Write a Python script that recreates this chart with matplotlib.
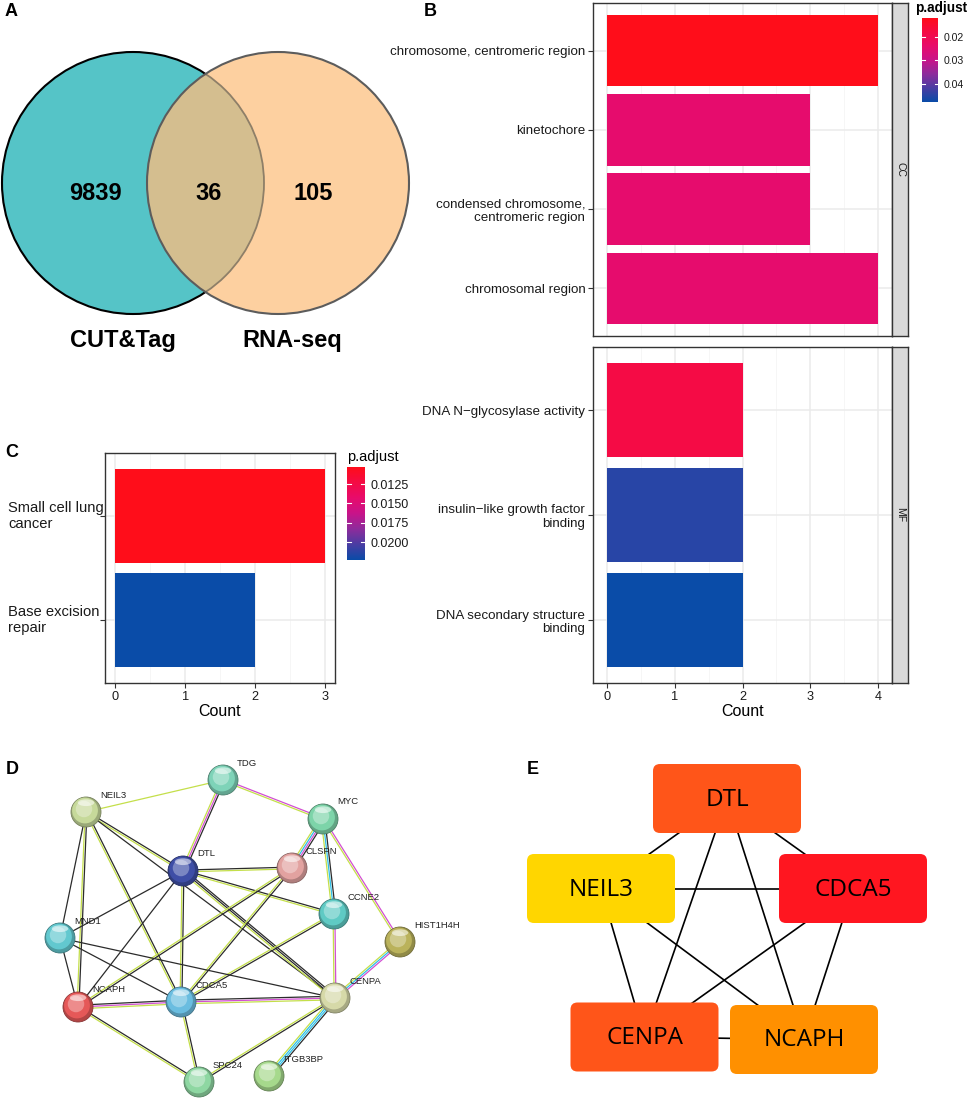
import matplotlib
matplotlib.use('Agg')
import matplotlib.pyplot as plt
from matplotlib.patches import Circle, FancyBboxPatch, Ellipse
from matplotlib.colors import LinearSegmentedColormap, Normalize, to_rgb
import matplotlib.transforms as mtransforms
from itertools import combinations
import numpy as np

plt.rcParams['font.family'] = ['Liberation Sans', 'DejaVu Sans']

# ------------------------------------------------------------------ data
venn_sets = ['CUT&Tag', 'RNA-seq']
venn_counts = [9839, 36, 105]          # only left, shared, only right

cc_terms = ['chromosome, centromeric region', 'kinetochore',
            'condensed chromosome,\ncentromeric region', 'chromosomal region']
cc_counts = [4, 3, 3, 4]
cc_padj = [0.0119, 0.0242, 0.0242, 0.0242]

mf_terms = ['DNA N\u2212glycosylase activity',
            'insulin\u2212like growth factor\nbinding',
            'DNA secondary structure\nbinding']
mf_counts = [2, 2, 2]
mf_padj = [0.0180, 0.0448, 0.0477]
b_legend_ticks = [0.02, 0.03, 0.04]

kegg_terms = ['Small cell lung\ncancer', 'Base excision\nrepair']
kegg_counts = [3, 2]
kegg_padj = [0.0103, 0.0223]
c_legend_ticks = [0.0125, 0.0150, 0.0175, 0.0200]

string_nodes = ['TDG', 'NEIL3', 'MYC', 'DTL', 'CLSPN', 'CCNE2', 'HIST1H4H',
                'MND1', 'NCAPH', 'CDCA5', 'CENPA', 'SPC24', 'ITGB3BP']
# evidence: k = co-expression, t = text mining, e = experiments, d = databases
string_edges = [
    ('NEIL3', 'TDG', 't'), ('NEIL3', 'DTL', 'kt'), ('NEIL3', 'MND1', 'k'),
    ('NEIL3', 'NCAPH', 'kt'), ('NEIL3', 'CDCA5', 'kt'), ('NEIL3', 'CENPA', 'k'),
    ('TDG', 'DTL', 'ket'), ('TDG', 'MYC', 'et'),
    ('MYC', 'CLSPN', 'kedt'), ('MYC', 'CCNE2', 'kdt'), ('MYC', 'HIST1H4H', 'et'),
    ('DTL', 'CLSPN', 'kt'), ('DTL', 'CCNE2', 'kt'), ('DTL', 'CDCA5', 'kt'),
    ('DTL', 'CENPA', 'kkt'), ('DTL', 'MND1', 'k'), ('DTL', 'NCAPH', 'k'),
    ('CLSPN', 'NCAPH', 'kt'), ('CLSPN', 'CDCA5', 'kt'), ('CCNE2', 'CDCA5', 'kt'),
    ('CCNE2', 'CENPA', 'et'), ('HIST1H4H', 'CENPA', 'edt'),
    ('MND1', 'NCAPH', 'k'), ('MND1', 'CDCA5', 'k'), ('MND1', 'CENPA', 'k'),
    ('NCAPH', 'CDCA5', 'ket'), ('CDCA5', 'CENPA', 'ket'),
    ('NCAPH', 'SPC24', 'kt'), ('CDCA5', 'SPC24', 'kt'), ('CENPA', 'SPC24', 'kt'),
    ('CENPA', 'ITGB3BP', 'kddt'),
]

hub_genes = ['DTL', 'NEIL3', 'CDCA5', 'CENPA', 'NCAPH']
hub_edges = list(combinations(hub_genes, 2))

# ------------------------------------------------------------------ layout / style
W, H = 969, 1103
fig = plt.figure(figsize=(W / 100, H / 100), dpi=100)


def rect(x0, y0, x1, y1):
    return [x0 / W, 1 - y1 / H, (x1 - x0) / W, (y1 - y0) / H]


def pix_axes(x0, y0, x1, y1):
    ax = fig.add_axes(rect(x0, y0, x1, y1))
    ax.set_xlim(x0, x1)
    ax.set_ylim(y1, y0)
    ax.axis('off')
    return ax


cmap = LinearSegmentedColormap.from_list(
    'padj', ['#FF0D1A', '#F50B45', '#E80C6C', '#C8148A', '#8E2C9C', '#4A3DA3', '#0A4CA8'])

label_kw = dict(fontsize=13, fontweight='bold', color='black', va='center', ha='center')

# ------------------------------------------------------------------ panel A (Venn)
axA = pix_axes(0, 0, 480, 372)
cL, cR, rad = (133, 183), (278, 183), 131
left = Circle(cL, rad, fc='#55C4C7', ec='black', lw=1.5, zorder=1)
right = Circle(cR, rad, fc='#FDD0A0', ec='none', zorder=2)
axA.add_patch(left)
axA.add_patch(right)
ov = Circle(cL, rad, fc='#D4BE8F', ec='#8E7F68', lw=1.3, zorder=3)
axA.add_patch(ov)
ov.set_clip_path(right)
axA.add_patch(Circle(cR, rad, fc='none', ec='#5C5C5C', lw=1.5, zorder=4))
num_x = [95, 209, 313]
for x, n in zip(num_x, venn_counts):
    axA.text(x, 193, str(n), fontsize=17, fontweight='bold', ha='center', va='center', zorder=5)
for x, s in zip([123, 292], venn_sets):
    axA.text(x, 340, s, fontsize=17, fontweight='bold', ha='center', va='center')
fig.text(11 / W, 1 - 11 / H, 'A', **label_kw)
fig.text(430 / W, 1 - 12 / H, 'B', **label_kw)
fig.text(12 / W, 1 - 453 / H, 'C', **label_kw)
fig.text(12 / W, 1 - 770 / H, 'D', **label_kw)
fig.text(533 / W, 1 - 770 / H, 'E', **label_kw)


# ------------------------------------------------------------------ bar panels
def bar_panel(ax, terms, counts, padj, norm, xmax, fs, show_x=True):
    y = np.arange(len(terms))
    ax.barh(y, counts, height=0.9, color=cmap(norm(np.array(padj))), zorder=2)
    ax.set_ylim(len(terms) - 0.4, -0.6)
    ax.set_xlim(-0.05 * xmax, 1.05 * xmax)
    ax.set_xticks(np.arange(0, xmax + 1))
    ax.set_xticks(np.arange(0.5, xmax, 1.0), minor=True)
    ax.set_yticks(y)
    ax.grid(which='major', color='#EBEBEB', lw=1.1, zorder=0)
    ax.grid(which='minor', axis='x', color='#F5F5F5', lw=0.6, zorder=0)
    ax.set_axisbelow(True)
    for s in ax.spines.values():
        s.set_color('#333333')
        s.set_linewidth(1.0)
    ax.tick_params(axis='both', which='major', length=3.5, width=0.8, color='#333333',
                   labelcolor='#1A1A1A', labelsize=fs, pad=2)
    ax.tick_params(axis='x', which='minor', length=0)
    ax.tick_params(axis='x', labelsize=9.2)
    if not show_x:
        ax.tick_params(axis='x', which='both', bottom=False, labelbottom=False)
    return y


def colorbar(x0, y0, x1, y1, vmin, vmax, ticks, fmt, fs):
    cax = fig.add_axes(rect(x0, y0, x1, y1))
    grad = np.linspace(vmin, vmax, 256).reshape(-1, 1)
    cax.imshow(grad, aspect='auto', cmap=cmap, norm=Normalize(vmin, vmax),
               extent=[0, 1, vmax, vmin], origin='upper', interpolation='bilinear')
    cax.set_xlim(0, 1)
    cax.set_ylim(vmax, vmin)
    for s in cax.spines.values():
        s.set_visible(False)
    cax.set_xticks([])
    cax.set_yticks(ticks)
    cax.set_yticklabels([fmt.format(t) for t in ticks])
    cax.yaxis.tick_right()
    cax.tick_params(axis='y', length=0, labelsize=fs, pad=4, labelcolor='#1A1A1A')
    for t in ticks:
        cax.plot([0, 0.2], [t, t], color='white', lw=0.8)
        cax.plot([0.8, 1], [t, t], color='white', lw=0.8)
    return cax


# panel B
b_norm = Normalize(min(cc_padj + mf_padj), max(cc_padj + mf_padj))
ax_cc = fig.add_axes(rect(593, 3, 892, 336))
bar_panel(ax_cc, cc_terms, cc_counts, cc_padj, b_norm, 4, 9.6, show_x=False)
ax_cc.set_yticklabels(cc_terms, multialignment='right')
ax_mf = fig.add_axes(rect(593, 347, 892, 683))
bar_panel(ax_mf, mf_terms, mf_counts, mf_padj, b_norm, 4, 9.6, show_x=True)
ax_mf.set_yticklabels(mf_terms, multialignment='right')
ax_mf.set_xlabel('Count', fontsize=11.5, labelpad=1)

for (y0, y1, lab) in [(3, 336, 'CC'), (347, 683, 'MF')]:
    sax = fig.add_axes(rect(892, y0, 908, y1))
    sax.set_facecolor('#D9D9D9')
    sax.set_xticks([])
    sax.set_yticks([])
    for s in sax.spines.values():
        s.set_color('#333333')
        s.set_linewidth(1.0)
    sax.text(0.5, 0.5, lab, rotation=270, fontsize=7.5, color='#1A1A1A',
             ha='center', va='center', transform=sax.transAxes)

fig.text(915 / W, 1 - 8 / H, 'p.adjust', fontsize=9.8, fontweight='bold', ha='left', va='center')
colorbar(922, 18, 938, 102, b_norm.vmin, b_norm.vmax, b_legend_ticks, '{:.2f}', 7.6)

# panel C
c_norm = Normalize(min(kegg_padj), max(kegg_padj))
ax_c = fig.add_axes(rect(105, 453, 335, 683))
yc = bar_panel(ax_c, kegg_terms, kegg_counts, kegg_padj, c_norm, 3, 10.6, show_x=True)
ax_c.set_yticklabels([''] * len(kegg_terms))
ax_c.set_xlabel('Count', fontsize=11.5, labelpad=1)
tr = mtransforms.blended_transform_factory(fig.transFigure, ax_c.transData)
for yy, t in zip(yc, kegg_terms):
    ax_c.text(8 / W, yy, t, transform=tr, fontsize=10.6, ha='left', va='center',
              multialignment='left', color='#1A1A1A')
fig.text(347 / W, 1 - 457 / H, 'p.adjust', fontsize=10.5, ha='left', va='center')
colorbar(347, 467, 365, 560, c_norm.vmin, c_norm.vmax, c_legend_ticks, '{:.4f}', 9)

# ------------------------------------------------------------------ panel D (STRING network)
axD = pix_axes(0, 725, 480, 1103)
node_xy = {'TDG': (223, 780), 'NEIL3': (86, 812), 'MYC': (323, 819), 'DTL': (183, 871),
           'CLSPN': (292, 868), 'CCNE2': (334, 914), 'HIST1H4H': (400, 942),
           'MND1': (60, 938), 'NCAPH': (78, 1007), 'CDCA5': (181, 1002),
           'CENPA': (335, 998), 'SPC24': (199, 1082), 'ITGB3BP': (269, 1076)}
node_col = {'TDG': '#7ED3B8', 'NEIL3': '#C6D99A', 'MYC': '#7DD4A9', 'DTL': '#3E4EA6',
            'CLSPN': '#E2A2A0', 'CCNE2': '#5FCAC4', 'HIST1H4H': '#BAB25B',
            'MND1': '#62C8CF', 'NCAPH': '#E55858', 'CDCA5': '#6ABDE0',
            'CENPA': '#D6D9A8', 'SPC24': '#8ED7A2', 'ITGB3BP': '#A6D98C'}
ev_col = {'k': '#2B2B2B', 't': '#C4DF4A', 'e': '#D24FD2', 'd': '#2FBFE6'}
for a, b, ev in string_edges:
    (x1, y1), (x2, y2) = node_xy[a], node_xy[b]
    dx, dy = x2 - x1, y2 - y1
    L = np.hypot(dx, dy)
    px, py = -dy / L, dx / L
    n = len(ev)
    for i, e in enumerate(ev):
        o = (i - (n - 1) / 2) * 1.8
        axD.plot([x1 + px * o, x2 + px * o], [y1 + py * o, y2 + py * o],
                 color=ev_col[e], lw=0.9, zorder=1, solid_capstyle='butt')
r = 15
for name in string_nodes:
    x, y = node_xy[name]
    base = np.array(to_rgb(node_col[name]))
    axD.add_patch(Circle((x, y), r, fc=base * 0.78, ec=base * 0.6, lw=0.6, zorder=3))
    axD.add_patch(Circle((x - 1, y - 1.5), r * 0.86, fc=base, ec='none', zorder=3))
    axD.add_patch(Circle((x - 2, y - 3), r * 0.55, fc=np.minimum(base * 0.55 + 0.45, 1),
                         ec='none', alpha=0.7, zorder=3))
    axD.add_patch(Ellipse((x, y - r * 0.62), r * 1.1, r * 0.45, fc='white', ec='none',
                          alpha=0.55, zorder=4))
    axD.text(x + 14, y - 17, name, fontsize=6.8, color='#222222', ha='left', va='center', zorder=5)

# ------------------------------------------------------------------ panel E (hub genes)
axE = pix_axes(500, 725, 969, 1103)
box_xy = {'DTL': (727, 798.5), 'NEIL3': (601, 888.5), 'CDCA5': (853, 888.5),
          'CENPA': (644.5, 1037), 'NCAPH': (804, 1039.5)}
box_col = {'DTL': '#FF5519', 'NEIL3': '#FFD600', 'CDCA5': '#FF1620',
           'CENPA': '#FF5519', 'NCAPH': '#FF9000'}
bw, bh = 148, 69
for a, b in hub_edges:
    (x1, y1), (x2, y2) = box_xy[a], box_xy[b]
    axE.plot([x1, x2], [y1, y2], color='black', lw=1.2, zorder=1)
for g in hub_genes:
    x, y = box_xy[g]
    axE.add_patch(FancyBboxPatch((x - bw / 2 + 7, y - bh / 2 + 7), bw - 14, bh - 14,
                                 boxstyle='round,pad=7', fc=box_col[g], ec='none', zorder=2))
    axE.text(x, y + 1, g, fontsize=17.5, family=['Open Sans', 'DejaVu Sans'],
             ha='center', va='center', color='black', zorder=3)

fig.savefig('out.png', dpi=100)
